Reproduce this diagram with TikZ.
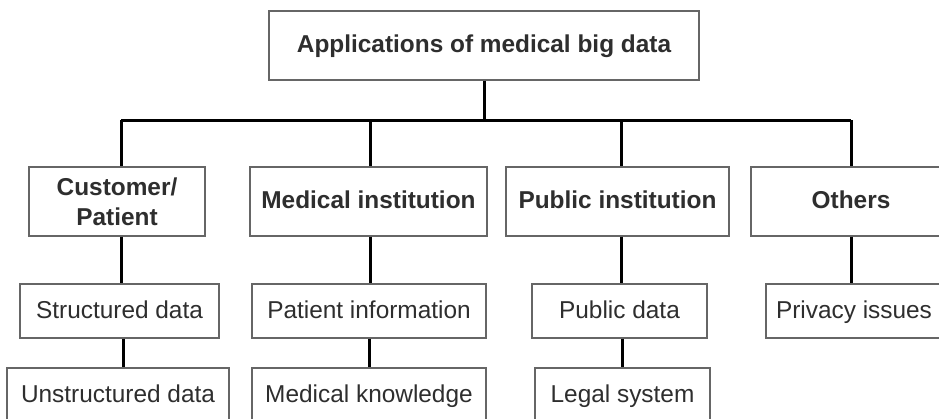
\documentclass[tikz,border=0pt]{standalone}
\usepackage{fontspec}
\setmainfont{Liberation Sans}
\definecolor{txt}{HTML}{2E2E2E}
\definecolor{edge}{HTML}{666666}
\tikzset{
  boxbase/.style={draw=edge, line width=1.3pt, fill=white, text=txt, inner sep=0pt,
    font=\fontsize{24.4}{30}\selectfont, align=center},
  box/.style={boxbase, text height=19pt, text depth=5pt},
  hbox/.style={box, font=\fontsize{24.4}{30}\selectfont\bfseries},
  hbox2/.style={boxbase, font=\fontsize{24.4}{30}\selectfont\bfseries},
  link/.style={draw=black, line width=3pt}
}
\begin{document}
\begin{tikzpicture}[x=1pt,y=-1pt]
\useasboundingbox (0,0) rectangle (939,418);
\clip (0,0) rectangle (939,418);
\fill[white] (0,0) rectangle (939,418);
% nodes
\node[hbox, minimum width=430pt, minimum height=69pt] (top) at (484,45.5) {Applications of medical big data};
\node[hbox2, minimum width=176pt, minimum height=69pt] (cust) at (117,201.5) {Customer/\\Patient};
\node[hbox, minimum width=237pt, minimum height=69pt] (med) at (368.5,201.5) {Medical institution};
\node[hbox, minimum width=223pt, minimum height=69pt] (pub) at (617.5,201.5) {Public institution};
\node[hbox, minimum width=200pt, minimum height=69pt] (oth) at (851,201.5) {Others};
\node[box, minimum width=199pt, minimum height=54pt] (str) at (119.5,311) {Structured data};
\node[box, minimum width=234pt, minimum height=54pt] (pinf) at (369,311) {Patient information};
\node[box, minimum width=175pt, minimum height=54pt] (pdat) at (619.5,311) {Public data};
\node[box, minimum width=176pt, minimum height=54pt] (priv) at (854,311) {Privacy issues};
\node[box, minimum width=222pt, minimum height=54pt] (unstr) at (118,395) {Unstructured data};
\node[box, minimum width=234pt, minimum height=54pt] (mknow) at (369,395) {Medical knowledge};
\node[box, minimum width=175pt, minimum height=54pt] (legal) at (622.5,395) {Legal system};
% connectors
\coordinate (bar) at (0,120);
\coordinate (s1) at (121,0);
\coordinate (s2) at (370,0);
\coordinate (s3) at (621,0);
\coordinate (s4) at (851,0);
\draw[link] (top.south) -- (top.south|-bar);
\draw[link] (s1|-bar) -- (s4|-bar);
\draw[link] (s1|-bar) -- (s1|-cust.north);
\draw[link] (s2|-bar) -- (s2|-med.north);
\draw[link] (s3|-bar) -- (s3|-pub.north);
\draw[link] (s4|-bar) -- (s4|-oth.north);
\draw[link] (s1|-cust.south) -- (s1|-str.north);
\draw[link] (s2|-med.south) -- (s2|-pinf.north);
\draw[link] (s3|-pub.south) -- (s3|-pdat.north);
\draw[link] (s4|-oth.south) -- (s4|-priv.north);
\coordinate (t1) at (123,0);
\coordinate (t2) at (369,0);
\coordinate (t3) at (622,0);
\draw[link] (t1|-str.south) -- (t1|-unstr.north);
\draw[link] (t2|-pinf.south) -- (t2|-mknow.north);
\draw[link] (t3|-pdat.south) -- (t3|-legal.north);
\end{tikzpicture}
\end{document}
